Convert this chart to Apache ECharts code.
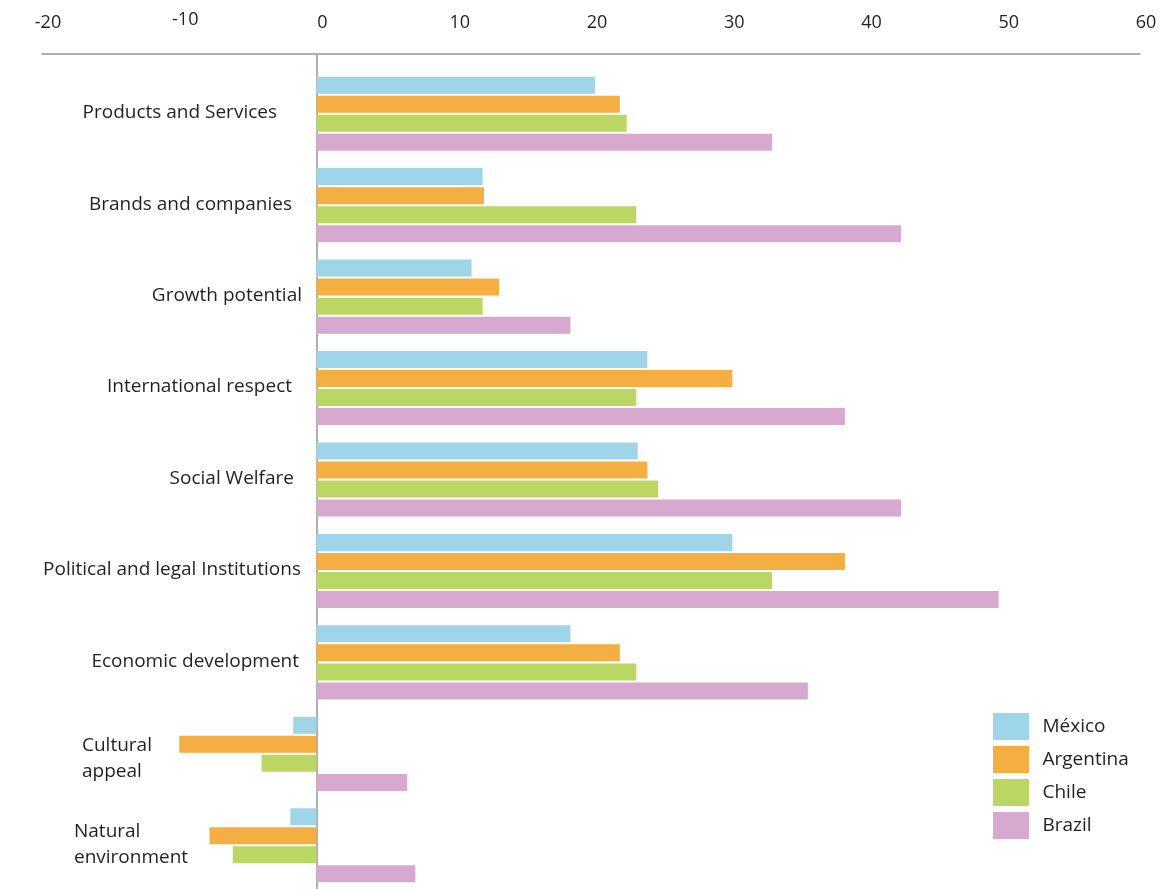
<!DOCTYPE html>
<html>
<head>
<meta charset="utf-8">
<title>Country image dimensions</title>
<script src="https://cdn.jsdelivr.net/npm/echarts@6/dist/echarts.min.js"></script>
<style>
  html, body { margin: 0; padding: 0; background: #ffffff; }
  #chart { width: 1173px; height: 889px; }
</style>
</head>
<body>
<div id="chart"></div>
<script>
// Dimensions, listed top to bottom
const categories = [
  'Products and Services',
  'Brands and companies',
  'Growth potential',
  'International respect',
  'Social Welfare',
  'Political and legal Institutions',
  'Economic development',
  'Cultural appeal',
  'Natural environment'
];

const countries = ['México', 'Argentina', 'Chile', 'Brazil'];

const mexico    = [20.3, 12.1, 11.3, 24.1, 23.4, 30.3, 18.5, -1.7, -1.9];
const argentina = [22.1, 12.2, 13.3, 30.3, 24.1, 38.5, 22.1, -10.0, -7.8];
const chile     = [22.6, 23.3, 12.1, 23.3, 24.9, 33.2, 23.3, -4.0, -6.1];
const brazil    = [33.2, 42.6, 18.5, 38.5, 42.6, 49.7, 35.8, 6.6, 7.2];

const xTicks = [-20, -10, 0, 10, 20, 30, 40, 50, 60];

// presentation only
const colors = ['#9fd5e8', '#f4ae41', '#bcd664', '#d8a9ce'];
const labelPadRight = [25, 10, 0, 10, 8, 1, 3, 0, 0];
const labelPadTop = [0, 0, 0, 0, 0, 0, 0, 12, 0];
const TEXT = '#231f20';
const FONT = 'Open Sans';
const GRID_LEFT = 42;
const LABEL_RIGHT = 302;   // right edge of the category labels

const seriesValues = [mexico, argentina, chile, brazil];

const chart = echarts.init(document.getElementById('chart'), null, { renderer: 'canvas' });

const option = {
  animation: false,
  backgroundColor: '#ffffff',
  textStyle: { fontFamily: FONT, color: TEXT },
  grid: {
    left: GRID_LEFT, right: 33, top: 68, height: 823,
    containLabel: false,
    outerBoundsMode: 'none'
  },
  legend: {
    orient: 'vertical',
    left: 993, top: 713,
    padding: 0,
    icon: 'rect',
    itemWidth: 36, itemHeight: 27, itemGap: 6,
    textStyle: { fontFamily: FONT, fontSize: 19, color: TEXT, padding: [0, 0, 0, 8.5] },
    data: countries
  },
  xAxis: {
    type: 'value',
    position: 'top',
    offset: 14,
    min: xTicks[0],
    max: xTicks[xTicks.length - 1],
    interval: 10,
    axisLine: { show: true, lineStyle: { color: '#969696', width: 1.5 } },
    axisTick: {
      show: true,
      inside: true,
      length: 840,
      customValues: [0],
      lineStyle: { color: '#b0b0b0', width: 2 }
    },
    splitLine: { show: false },
    axisLabel: {
      fontFamily: FONT, fontSize: 18, color: TEXT, margin: 22,
      padding: [0, 0, 0, 12],
      customValues: xTicks,
      formatter: function (v) {
        return v === -10 ? '{up|' + v + '}' : String(v);
      },
      rich: {
        up: { fontFamily: FONT, fontSize: 18, color: TEXT, padding: [0, 0, 3, 0] }
      }
    }
  },
  yAxis: {
    type: 'category',
    inverse: true,
    data: categories.map((c, i) => ({
      value: c,
      textStyle: { padding: [labelPadTop[i], labelPadRight[i], 2, 0] }
    })),
    axisLine: { show: true, onZero: true, lineStyle: { color: '#b0b0b0', width: 2 } },
    axisTick: { show: false },
    splitLine: { show: false },
    axisLabel: {
      fontFamily: FONT, fontSize: 19, color: TEXT,
      margin: GRID_LEFT - LABEL_RIGHT,
      formatter: function (v) {
        if (v === 'Cultural appeal') return '{c|Cultural}\n{c|appeal}';
        if (v === 'Natural environment') return '{n|Natural}\n{n|environment}';
        return v;
      },
      rich: {
        c: { width: 220, align: 'left', fontFamily: FONT, fontSize: 19, color: TEXT, lineHeight: 26 },
        n: { width: 228, align: 'left', fontFamily: FONT, fontSize: 19, color: TEXT, lineHeight: 26 }
      }
    }
  },
  series: countries.map((name, i) => ({
    name: name,
    type: 'bar',
    data: seriesValues[i],
    barWidth: 17,
    barGap: '12%',
    itemStyle: { color: colors[i] }
  }))
};

chart.setOption(option);
</script>
</body>
</html>
